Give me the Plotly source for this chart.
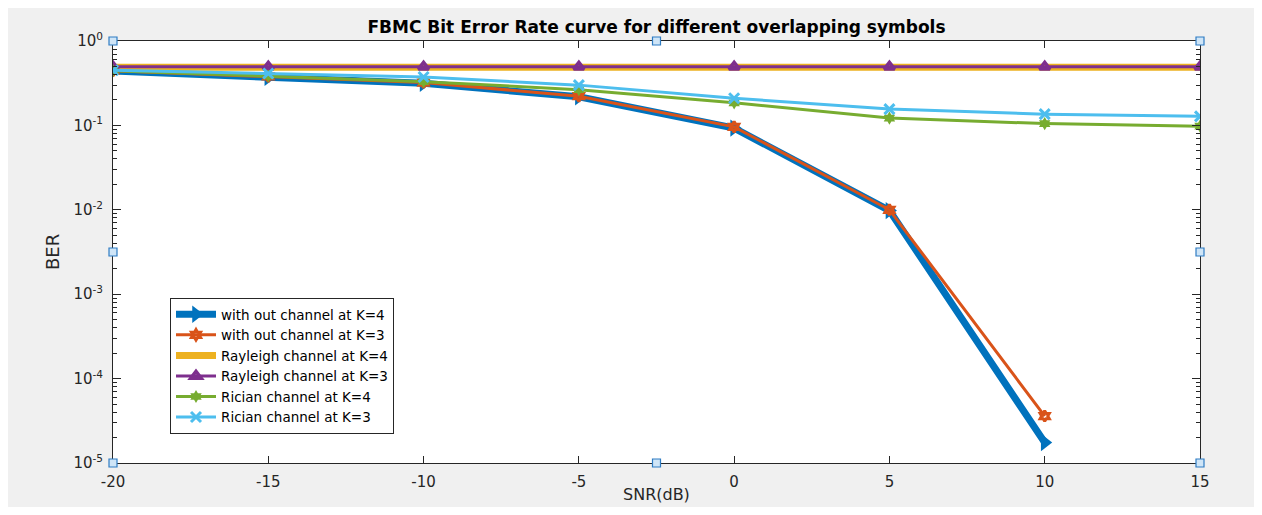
import plotly.graph_objects as go

snr = [-20, -15, -10, -5, 0, 5, 10, 15]
snr_awgn = [-20, -15, -10, -5, 0, 5, 10]

ber_awgn_k4 = [0.440, 0.370, 0.315, 0.218, 0.093, 0.0098, 1.75e-5]
ber_awgn_k3 = [0.445, 0.380, 0.322, 0.222, 0.096, 0.0100, 3.6e-5]
ber_rayleigh_k4 = [0.49, 0.49, 0.49, 0.49, 0.49, 0.49, 0.49, 0.49]
ber_rayleigh_k3 = [0.495, 0.495, 0.495, 0.495, 0.495, 0.495, 0.495, 0.495]
ber_rician_k4 = [0.445, 0.385, 0.330, 0.265, 0.185, 0.122, 0.105, 0.098]
ber_rician_k3 = [0.450, 0.412, 0.375, 0.300, 0.210, 0.156, 0.136, 0.128]

names = ["with out channel at K=4", "with out channel at K=3",
         "Rayleigh channel at K=4", "Rayleigh channel at K=3",
         "Rician channel at K=4", "Rician channel at K=3"]

x_ticks = [-20, -15, -10, -5, 0, 5, 10, 15]
x_ticktext = ["-20", "-15", "-10", "-5", "0", "5", "10", "15"]
y_tickvals = [1e-5, 1e-4, 1e-3, 1e-2, 1e-1, 1]
y_ticktext = ["10<sup>-5</sup>", "10<sup>-4</sup>", "10<sup>-3</sup>",
              "10<sup>-2</sup>", "10<sup>-1</sup>", "10<sup>0</sup>"]
y_minor = [m * 10.0 ** k for k in range(-5, 0) for m in range(2, 10)]

C_BLUE, C_ORANGE, C_YELLOW = "#0072BD", "#D95319", "#EDB120"
C_PURPLE, C_GREEN, C_LBLUE = "#7E2F8E", "#77AC30", "#4DBEEE"
AX = "#262626"
FONT = "DejaVu Sans, Liberation Sans, Arial, sans-serif"

fig = go.Figure()
fig.add_trace(go.Scatter(x=snr_awgn, y=ber_awgn_k4, name=names[0], mode="lines+markers",
                         line=dict(color=C_BLUE, width=7),
                         marker=dict(symbol="triangle-right", size=15, color=C_BLUE)))
fig.add_trace(go.Scatter(x=snr_awgn, y=ber_awgn_k3, name=names[1], mode="lines+markers",
                         line=dict(color=C_ORANGE, width=3),
                         marker=dict(symbol="hexagram-open", size=8, color=C_ORANGE,
                                     line=dict(width=3, color=C_ORANGE))))
fig.add_trace(go.Scatter(x=snr, y=ber_rayleigh_k4, name=names[2], mode="lines",
                         line=dict(color=C_YELLOW, width=7)))
fig.add_trace(go.Scatter(x=snr, y=ber_rayleigh_k3, name=names[3], mode="lines+markers",
                         line=dict(color=C_PURPLE, width=3),
                         marker=dict(symbol="triangle-up-open", size=9, color=C_PURPLE,
                                     line=dict(width=3.5, color=C_PURPLE))))
fig.add_trace(go.Scatter(x=snr, y=ber_rician_k4, name=names[4], mode="lines+markers",
                         line=dict(color=C_GREEN, width=3),
                         marker=dict(symbol="hexagram", size=10, color=C_GREEN)))
fig.add_trace(go.Scatter(x=snr, y=ber_rician_k3, name=names[5], mode="lines+markers",
                         line=dict(color=C_LBLUE, width=3),
                         marker=dict(symbol="x-thin-open", size=10, color=C_LBLUE,
                                     line=dict(width=3, color=C_LBLUE))))

# page has an 8px body margin; the figure is sized to fit inside the window
OFF = 8
W, H = 1262 - 2 * OFF, 515 - 2 * OFF
L, T = 113 - OFF, 41 - OFF
R = W - (1200 - OFF)
B = H - (463 - OFF)
pw, ph = W - L - R, H - T - B

def px2x(px):
    return (px - OFF - L) / pw

def py2y(py):
    return (H - B - (py - OFF)) / ph

shapes = []
for hx, hy in [(0, 1), (0.5, 1), (1, 1), (0, 0.5), (1, 0.5), (0, 0), (0.5, 0), (1, 0)]:
    shapes.append(dict(type="rect", xref="paper", yref="paper", layer="above",
                       xsizemode="pixel", ysizemode="pixel", xanchor=hx, yanchor=hy,
                       x0=-4, x1=4, y0=-4, y1=4,
                       fillcolor="#cfe5f7", line=dict(color="#2f7cc3", width=1.2)))

fig.update_layout(
    width=W, height=H,
    margin=dict(l=L, r=R, t=T, b=B),
    paper_bgcolor="#f0f0f0", plot_bgcolor="white",
    font=dict(family=FONT, color=AX, size=15),
    title=dict(text="<b>FBMC Bit Error Rate curve for different overlapping symbols</b>",
               font=dict(size=17, color="black", family=FONT), x=0.5, xref="paper",
               xanchor="center", y=1 - (27 - OFF) / H, yref="container", yanchor="middle"),
    showlegend=True,
    legend=dict(x=px2x(170), y=py2y(298), xanchor="left", yanchor="top",
                bgcolor="white", bordercolor=AX, borderwidth=1,
                font=dict(size=13.5, color="black", family=FONT), itemwidth=40,
                tracegroupgap=0),
    shapes=shapes,
    annotations=[
        dict(text="SNR(dB)", xref="paper", yref="paper", x=0.5, y=py2y(495),
             xanchor="center", yanchor="middle", showarrow=False,
             font=dict(size=16, color=AX, family=FONT)),
        dict(text="BER", xref="paper", yref="paper", x=px2x(52), y=0.5, textangle=-90,
             xanchor="center", yanchor="middle", showarrow=False,
             font=dict(size=18, color=AX, family=FONT)),
    ],
)
fig.update_xaxes(range=[-20, 15], tickvals=x_ticks, ticktext=x_ticktext, ticks="inside",
                 ticklen=7, tickcolor=AX, showline=True, linecolor=AX, linewidth=1,
                 mirror="ticks", showgrid=False, zeroline=False, ticklabelstandoff=5,
                 tickfont=dict(size=15, color=AX, family=FONT))
fig.update_yaxes(type="log", range=[-5, 0], tickvals=y_tickvals, ticktext=y_ticktext,
                 ticks="inside", ticklen=8, tickcolor=AX, showline=True, linecolor=AX,
                 linewidth=1, mirror="ticks", showgrid=False, zeroline=False,
                 ticklabelstandoff=6, tickfont=dict(size=15, color=AX, family=FONT),
                 minor=dict(tickvals=y_minor, ticks="inside", ticklen=4, tickcolor=AX,
                            showgrid=False))

fig.write_html("out.html")
